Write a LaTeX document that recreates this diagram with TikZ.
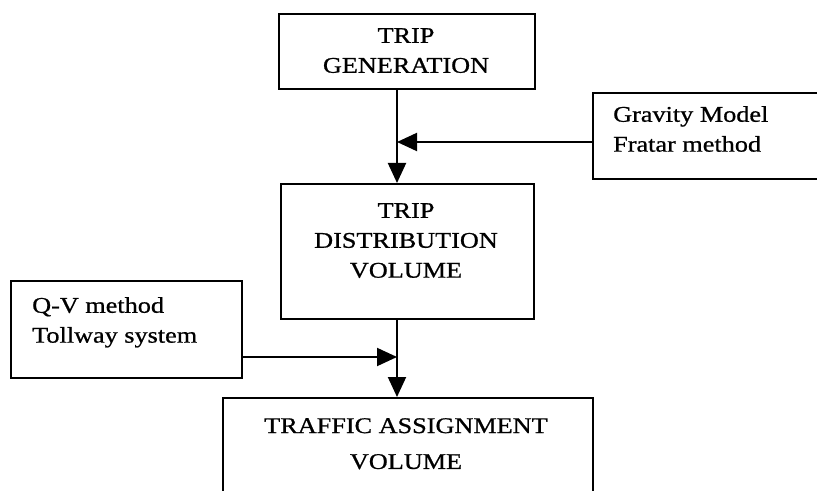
\documentclass[tikz,border=0pt]{standalone}
\usepackage{fontspec}
\setmainfont{Liberation Serif}[FakeStretch=1.17,FakeBold=0.8]
\usetikzlibrary{arrows.meta}
\tikzset{
  box/.style={draw, line width=2bp, inner sep=0pt, rectangle},
  txt/.style={inner sep=0pt, anchor=north, align=center, font=\fontsize{22.5}{30}\selectfont},
  ltxt/.style={txt, anchor=north west, align=left},
  arr/.style={line width=2bp, -{Triangle[length=20bp,width=18bp]}},
}
\begin{document}
\begin{tikzpicture}[x=1bp,y=-1bp]
  \useasboundingbox (0,0) rectangle (817,491);
  \fill[white] (0,0) rectangle (817,491);
  \clip (0,0) rectangle (817,491);
  % boxes
  \node[box, anchor=north west, minimum width=256bp, minimum height=75bp] (gen) at (278,13) {};
  \node[box, anchor=north west, minimum width=253bp, minimum height=135bp] (dist) at (280,183) {};
  \node[box, anchor=north west, minimum width=300bp, minimum height=86bp] (grav) at (592,92) {};
  \node[box, anchor=north west, minimum width=231bp, minimum height=97bp] (qv) at (10,280) {};
  \node[box, anchor=north west, minimum width=370bp, minimum height=150bp] (assign) at (222,397) {};
  % texts
  \node[txt] (tgen) at (406,28) {TRIP\\GENERATION};
  \node[txt] (tdist) at (406,203) {TRIP\\DISTRIBUTION\\VOLUME};
  \node[ltxt] (tgrav) at (613,106) {Gravity Model\\Fratar method};
  \node[ltxt] (tqv) at (32,297) {Q-V method\\Tollway system};
  \node[txt] (tassign) at (406,418) {TRAFFIC ASSIGNMENT\\[6bp]VOLUME};
  % connectors
  \coordinate (spine) at (397,0);
  \coordinate (j1) at (397,142);
  \coordinate (j2) at (397,357);
  \draw[arr] (gen.south -| spine) -- (dist.north -| spine);
  \draw[arr] (dist.south -| spine) -- (assign.north -| spine);
  \draw[arr] (grav.west |- j1) -- (j1);
  \draw[arr] (qv.east |- j2) -- (j2);
\end{tikzpicture}
\end{document}
